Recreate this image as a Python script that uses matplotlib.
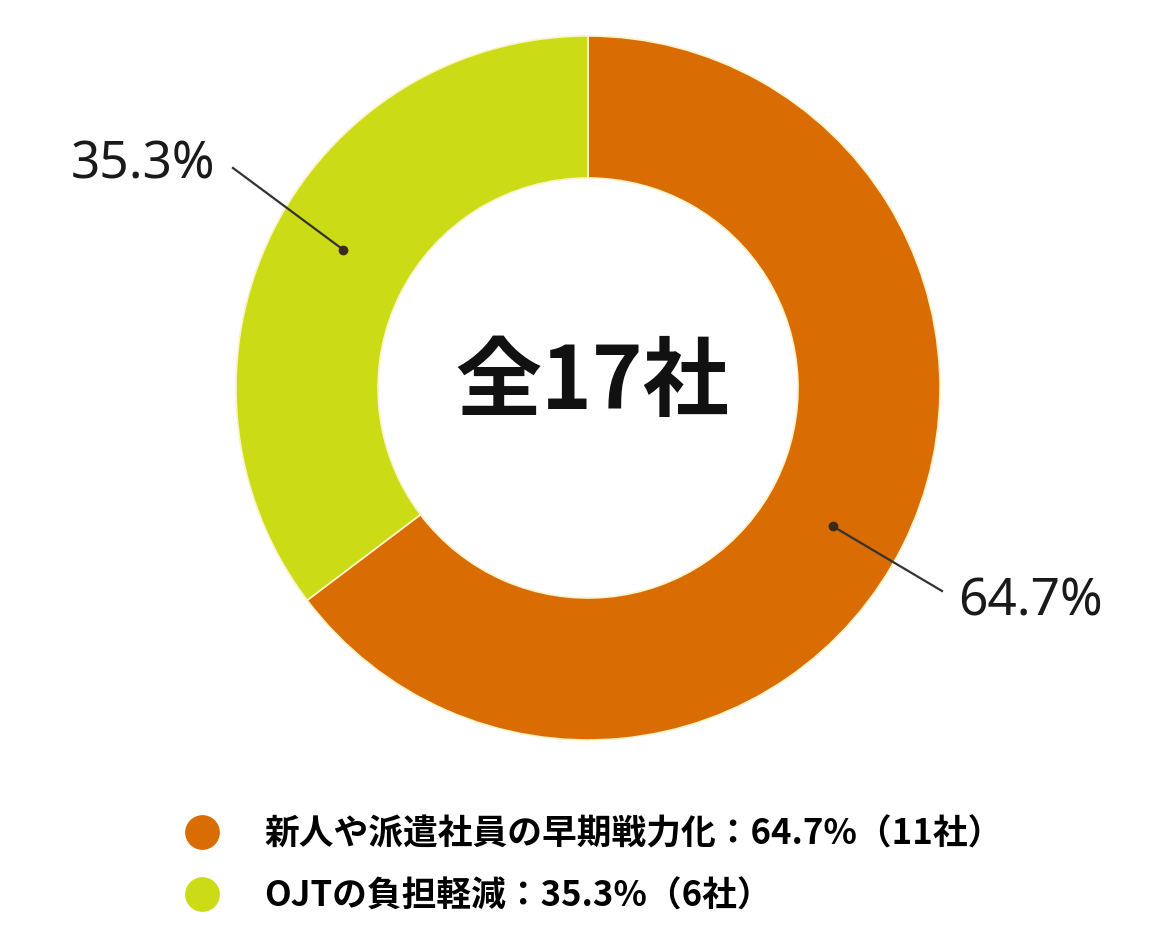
import matplotlib
matplotlib.use("Agg")
import matplotlib.pyplot as plt
from matplotlib.lines import Line2D
import numpy as np

plt.rcParams['font.family'] = ['Noto Sans CJK JP', 'DejaVu Sans']

# data
labels = ["新人や派遣社員の早期戦力化", "OJTの負担軽減"]
shares = [64.7, 35.3]
counts = [11, 6]
colors = ["#d96c02", "#cbdc16"]
center_label = "全17社"

fig = plt.figure(figsize=(11.76, 9.4), dpi=100)
ax = fig.add_axes([0, 0, 1, 1])
ax.set_xlim(0, 1176)
ax.set_ylim(0, 940)
ax.set_aspect("equal")
ax.axis("off")

cx, cy, r_out, r_in = 588, 552, 352, 210
wedges, _ = ax.pie(shares, colors=colors, startangle=90, counterclock=False,
                   center=(cx, cy), radius=r_out,
                   wedgeprops=dict(width=r_out - r_in, linewidth=1.2,
                                   edgecolor="#fbf3c8"))
ax.set_xlim(0, 1176)
ax.set_ylim(0, 940)

# center text
ax.text(cx + 4, cy + 4, center_label, ha="center", va="center",
        fontsize=62, fontweight="bold", color="#111111")

# percent labels with leader lines
r_mid = (r_out + r_in) / 2
text_pos = [(1030, 338), (143, 775)]
line_end = [(942, 349), (233, 772)]
for w, s, tp, le in zip(wedges, shares, text_pos, line_end):
    ang = np.deg2rad((w.theta1 + w.theta2) / 2 + (3 if w.theta1 > 0 else -3))
    px, py = cx + r_mid * np.cos(ang), cy + r_mid * np.sin(ang)
    ax.plot([px, le[0]], [py, le[1]], color="#333333", lw=1.6)
    ax.plot(px, py, "o", color="#3a2a1a", ms=6)
    ax.text(tp[0], tp[1], f"{s}%", ha="center", va="center",
            fontsize=37, fontweight="medium",
            family=['Noto Sans', 'DejaVu Sans'], color="#1a1a1a")

# legend
handles = [Line2D([], [], marker="o", ls="", color=c, markersize=24) for c in colors]
leg_labels = [f"{l}：{s}%（{n}社）" for l, s, n in zip(labels, shares, counts)]
fig.legend(handles, leg_labels, loc="upper left",
           bbox_to_anchor=(150 / 1176, 1 - 785 / 940), frameon=False,
           prop=dict(size=25, weight="bold"), labelspacing=0.78,
           handletextpad=1.2, handlelength=1.2)

fig.savefig("out.png", dpi=100, facecolor="white")
